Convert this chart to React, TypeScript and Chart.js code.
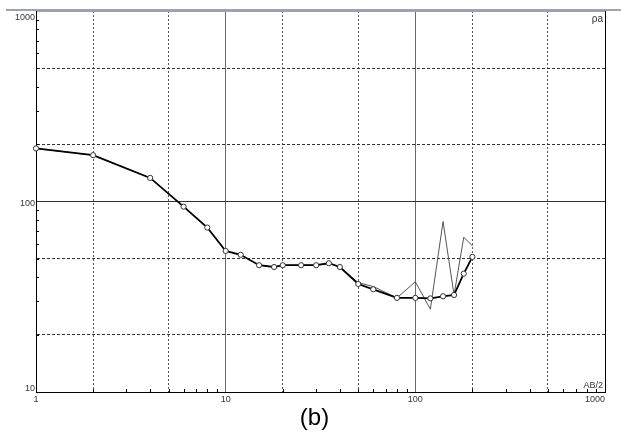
import React, { useEffect, useRef } from 'react';
import { Chart, registerables } from 'chart.js';

Chart.register(...registerables);

// AB/2 spacing (m)
const spacing = [1, 2, 4, 6, 8, 10, 12, 15, 18, 20, 25, 30, 35, 40, 50, 60, 80, 100, 120, 140, 160, 180, 200];
// smoothed apparent resistivity (thick line with markers)
const rhoSmoothed = [190, 175, 133, 94, 73, 55, 52.5, 46.3, 45.3, 46.3, 46.3, 46.3, 47.4, 45.3, 36.9, 34.6, 31.2, 31.2, 31, 31.8, 32.3, 41.8, 51.2];
// field apparent resistivity (thin line)
const rhoField = [190, 175, 133, 94, 73, 55, 52.5, 46.3, 45.3, 46.3, 46.3, 46.3, 47.4, 45.3, 37.5, 35.8, 31.2, 37.9, 27.2, 78.5, 32.3, 65, 58.5];

const xTickValues = [1, 2, 3, 4, 5, 6, 7, 8, 9, 10, 20, 30, 40, 50, 60, 70, 80, 90, 100, 200, 300, 400, 500, 600, 700, 800, 900, 1000];
const yTickValues = [10, 20, 30, 40, 50, 60, 70, 80, 90, 100, 200, 300, 400, 500, 600, 700, 800, 900, 1000];
const xLabelValues = [1, 10, 100, 1000];
const xLabelTexts = ['1', '10', '100', '1000'];
const yLabelValues = [10, 100, 1000];
const yLabelTexts = ['10', '100', '1000'];

const yAxisTitle = 'ρa';
const xAxisTitle = 'AB/2';
const caption = '(b)';

const lead = (v: number) => Math.round(v / Math.pow(10, Math.floor(Math.log10(v) + 1e-9)));
const isDecade = (v: number) => lead(v) === 1;
const isHalf = (v: number) => lead(v) === 2 || lead(v) === 5;

const labelFont = '9px "Liberation Sans", Arial, sans-serif';

const decorPlugin = {
  id: 'decor',
  afterDraw(chart: any) {
    const { ctx, chartArea: a, scales } = chart;
    const xs = scales.x;
    const ys = scales.y;
    ctx.save();
    // minor ticks inside the axes
    ctx.strokeStyle = '#000';
    ctx.lineWidth = 1;
    ctx.beginPath();
    xTickValues.forEach((v) => {
      if (isDecade(v)) return;
      const px = Math.round(xs.getPixelForValue(v)) + 0.5;
      ctx.moveTo(px, a.bottom);
      ctx.lineTo(px, a.bottom - 3);
    });
    yTickValues.forEach((v) => {
      if (isDecade(v)) return;
      const py = Math.round(ys.getPixelForValue(v)) + 0.5;
      ctx.moveTo(a.left, py);
      ctx.lineTo(a.left + 3, py);
    });
    ctx.stroke();

    // tick labels
    ctx.font = labelFont;
    ctx.fillStyle = '#333';
    ctx.textBaseline = 'alphabetic';
    xLabelValues.forEach((v, i) => {
      const px = xs.getPixelForValue(v);
      const last = i === xLabelValues.length - 1;
      ctx.textAlign = last ? 'right' : 'center';
      ctx.fillText(xLabelTexts[i], last ? a.right : px, a.bottom + 10);
    });
    yLabelValues.forEach((v, i) => {
      const py = ys.getPixelForValue(v);
      let dy = 4;
      if (i === 0) dy = -1.5;
      if (i === yLabelValues.length - 1) dy = 9;
      ctx.textAlign = 'right';
      ctx.fillText(yLabelTexts[i], a.left - 1, py + dy);
    });

    // axis names inside plot
    ctx.font = '10px "Liberation Sans", Arial, sans-serif';
    ctx.textAlign = 'right';
    ctx.fillText(yAxisTitle, a.right - 2, a.top + 11);
    ctx.font = labelFont;
    ctx.fillText(xAxisTitle, a.right - 2, a.bottom - 4);

    // caption
    ctx.font = '24px "Liberation Sans", Arial, sans-serif';
    ctx.fillStyle = '#000';
    ctx.textAlign = 'center';
    ctx.fillText(caption, (a.left + a.right) / 2 - 6, a.bottom + 33);
    ctx.restore();
  },
};

export default function App() {
  const ref = useRef<HTMLCanvasElement | null>(null);
  useEffect(() => {
    if (!ref.current) return;
    const chart = new Chart(ref.current, {
      type: 'line',
      data: {
        datasets: [
          {
            label: 'smoothed',
            data: spacing.map((x, i) => ({ x, y: rhoSmoothed[i] })),
            borderColor: '#000',
            borderWidth: 1.8,
            pointRadius: 2.6,
            pointBackgroundColor: '#fff',
            pointBorderColor: '#333',
            pointBorderWidth: 1,
            tension: 0,
            clip: 6,
          },
          {
            label: 'field',
            data: spacing.map((x, i) => ({ x, y: rhoField[i] })),
            borderColor: '#555',
            borderWidth: 1,
            pointRadius: 0,
            tension: 0,
            clip: 6,
          },
        ],
      },
      options: {
        animation: false,
        responsive: false,
        events: [],
        layout: { padding: { left: 36, right: 16, top: 11, bottom: 51 } },
        plugins: { legend: { display: false }, tooltip: { enabled: false }, title: { display: false } },
        scales: {
          x: {
            type: 'logarithmic',
            min: 1,
            max: 1000,
            afterBuildTicks: (scale: any) => {
              scale.ticks = xTickValues.map((value) => ({ value }));
            },
            ticks: { display: false },
            grid: {
              drawTicks: false,
              lineWidth: 1,
              color: (c: any) => {
                const v = c.tick?.value;
                if (v === undefined) return 'rgba(0,0,0,0)';
                if (v === 1000) return '#000';
                if (isDecade(v)) return '#6a6a6a';
                if (isHalf(v)) return '#555';
                return 'rgba(0,0,0,0)';
              },
            },
            border: {
              display: true,
              color: '#000',
              width: 1,
              dash: (c: any) => {
                const v = c.tick?.value;
                if (v === undefined || isDecade(v)) return [];
                return [2, 2];
              },
            },
          },
          y: {
            type: 'logarithmic',
            min: 10,
            max: 1000,
            afterBuildTicks: (scale: any) => {
              scale.ticks = yTickValues.map((value) => ({ value }));
            },
            ticks: { display: false },
            grid: {
              drawTicks: false,
              lineWidth: 1,
              color: (c: any) => {
                const v = c.tick?.value;
                if (v === undefined) return 'rgba(0,0,0,0)';
                if (v === 1000) return '#9aa4ae';
                if (isDecade(v)) return '#333';
                if (isHalf(v)) return '#333';
                return 'rgba(0,0,0,0)';
              },
            },
            border: {
              display: true,
              color: '#000',
              width: 1,
              dash: (c: any) => {
                const v = c.tick?.value;
                if (v === undefined || isDecade(v)) return [];
                return [3, 2];
              },
            },
          },
        },
      },
      plugins: [decorPlugin],
    });
    return () => chart.destroy();
  }, []);

  return (
    <div style={{ position: 'absolute', left: 0, top: 0, width: 621, height: 443, background: '#fff' }}>
      <canvas ref={ref} width={621} height={443} style={{ display: 'block' }} />
      <div style={{ position: 'absolute', left: 6, top: 9, width: 615, height: 2, background: '#9aa4ae' }} />
    </div>
  );
}
